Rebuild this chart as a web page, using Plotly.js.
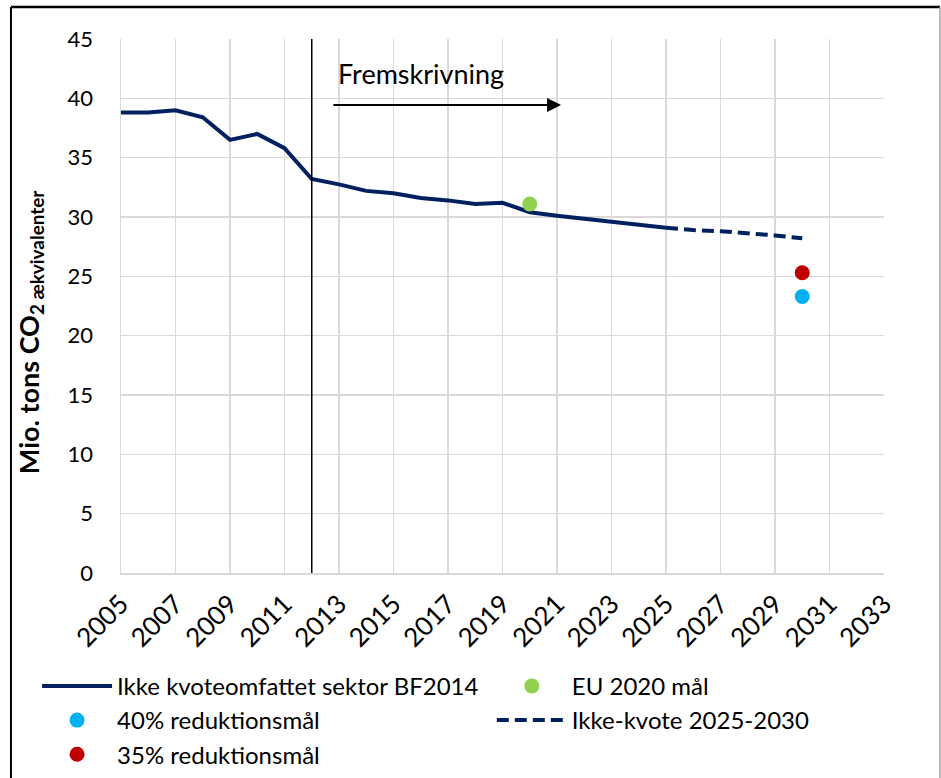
<!DOCTYPE html>
<html>
<head>
<meta charset="utf-8">
<script src="https://cdn.plot.ly/plotly-3.0.1.min.js"></script>
<style>html,body{margin:0;padding:0;background:#fff;}#chart{width:941px;height:778px;}</style>
</head>
<body>
<div id="chart"></div>
<script>
// Data
const yearsMain = [2005,2006,2007,2008,2009,2010,2011,2012,2013,2014,2015,2016,2017,2018,2019,2020,2021,2022,2023,2024,2025];
const valuesMain = [38.8,38.8,39.0,38.4,36.5,37.0,35.8,33.2,32.75,32.2,32.0,31.6,31.4,31.1,31.2,30.4,30.1,29.85,29.6,29.35,29.1];
const yearsDashed = [2025,2026,2027,2028,2029,2030];
const valuesDashed = [29.1,28.9,28.8,28.65,28.45,28.2];
const euYear = [2020];
const euValue = [31.1];
const red40Year = [2030];
const red40Value = [23.3];
const red35Year = [2030];
const red35Value = [25.3];
const xTicks = [2005,2007,2009,2011,2013,2015,2017,2019,2021,2023,2025,2027,2029,2031,2033];
const projectionStart = 2012;

const FONT = 'Lato, "Liberation Sans", sans-serif';
const NAVY = '#002060';

const traces = [
  {x: yearsMain, y: valuesMain, type: 'scatter', mode: 'lines', name: 'Ikke kvoteomfattet sektor BF2014',
   line: {color: NAVY, width: 4}, legend: 'legend', legendgroup: 'a'},
  {x: red40Year, y: red40Value, type: 'scatter', mode: 'markers', name: '40% reduktionsmål',
   marker: {color: '#00B0F0', size: 15}, legend: 'legend', legendgroup: 'b'},
  {x: red35Year, y: red35Value, type: 'scatter', mode: 'markers', name: '35% reduktionsmål',
   marker: {color: '#C00000', size: 15}, legend: 'legend', legendgroup: 'c'},
  {x: euYear, y: euValue, type: 'scatter', mode: 'markers', name: 'EU 2020 mål',
   marker: {color: '#92D050', size: 15}, legend: 'legend2', legendgroup: 'd'},
  {x: yearsDashed, y: valuesDashed, type: 'scatter', mode: 'lines', name: 'Ikke-kvote 2025-2030',
   line: {color: NAVY, width: 4, dash: '12px,6px'}, legend: 'legend2', legendgroup: 'e'}
];

const legendCommon = {
  orientation: 'v', yanchor: 'top', xanchor: 'left', y: -0.17,
  font: {family: FONT, size: 24, color: '#000'}, itemwidth: 70,
  traceorder: 'grouped', tracegroupgap: 0, bgcolor: 'rgba(0,0,0,0)', borderwidth: 0
};

const layout = {
  width: 941, height: 778,
  margin: {l: 121, r: 57, t: 39, b: 205, autoexpand: false},
  paper_bgcolor: '#fff', plot_bgcolor: '#fff',
  font: {family: FONT, size: 22, color: '#000'},
  showlegend: true,
  legend: Object.assign({}, legendCommon, {x: -0.11}),
  legend2: Object.assign({}, legendCommon, {x: 0.486}),
  xaxis: {
    range: [2005, 2033], tickmode: 'array', tickvals: xTicks, ticktext: xTicks.map(String),
    tickangle: -45, showgrid: true, gridcolor: '#D9D9D9', gridwidth: 1.5,
    showline: true, linecolor: '#D9D9D9', linewidth: 1.5, zeroline: false, ticks: '',
    tickfont: {family: FONT, size: 26, color: '#000'}, ticklabelstandoff: 4,
    automargin: false, fixedrange: true
  },
  yaxis: {
    range: [0, 45], dtick: 5, tick0: 0, showgrid: true, gridcolor: '#D9D9D9', gridwidth: 1.5,
    showline: true, linecolor: '#D9D9D9', linewidth: 1.5, zeroline: false, ticks: '',
    tickfont: {family: FONT, size: 22, color: '#000'}, ticklabelstandoff: 22,
    automargin: false, fixedrange: true
  },
  shapes: [
    {type: 'line', xref: 'x', yref: 'paper', x0: projectionStart, x1: projectionStart, y0: 0, y1: 1,
     line: {color: '#000', width: 1.5}},
    {type: 'line', xref: 'paper', yref: 'paper', x0: -0.1442, x1: -0.1442, y0: -0.5, y1: 1.0599,
     line: {color: '#000', width: 2}},
    {type: 'line', xref: 'paper', yref: 'paper', x0: -0.1442, x1: 1.0734, y0: 1.0599, y1: 1.0599,
     line: {color: '#000', width: 2.5}},
    {type: 'line', xref: 'paper', yref: 'paper', x0: 1.0734, x1: 1.0734, y0: -0.5, y1: 1.0599,
     line: {color: '#A6A6A6', width: 1.5}}
  ],
  annotations: [
    {x: -0.1193, y: 0.451, xref: 'paper', yref: 'paper', xanchor: 'center', yanchor: 'middle',
     textangle: -90, showarrow: false,
     text: '<b>Mio. tons CO<sub>2</sub><sub> ækvivalenter</sub></b>',
     font: {family: FONT, size: 27, color: '#000'}},
    {x: 2016.0, y: 42.1, xref: 'x', yref: 'y', text: 'Fremskrivning', showarrow: false,
     font: {family: FONT, size: 27, color: '#000'}},
    {x: 2021.15, y: 39.44, ax: 2012.74, ay: 39.44, xref: 'x', yref: 'y', axref: 'x', ayref: 'y',
     text: '', showarrow: true, arrowhead: 2, arrowsize: 1.4, arrowwidth: 2, arrowcolor: '#000'}
  ]
};

Plotly.newPlot('chart', traces, layout, {displayModeBar: false, staticPlot: true});
</script>
</body>
</html>
